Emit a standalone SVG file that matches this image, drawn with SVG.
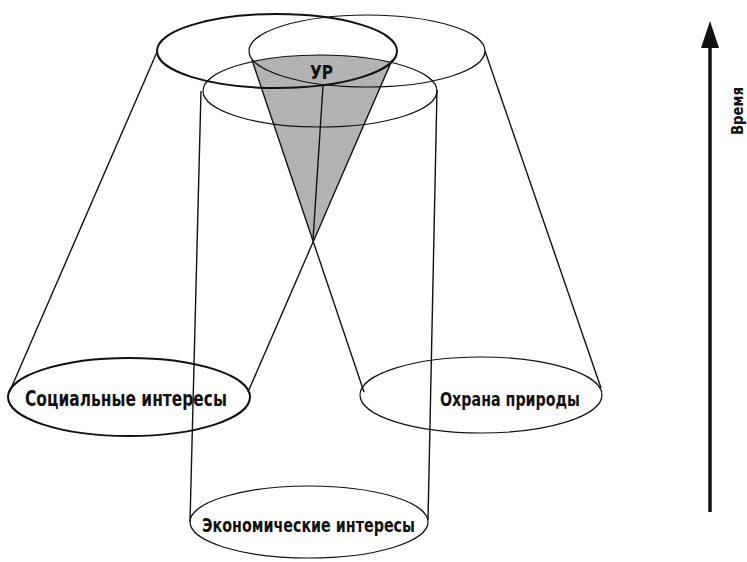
<svg xmlns="http://www.w3.org/2000/svg" width="747" height="562" viewBox="0 0 747 562">
<style>
.thin{fill:none;stroke:#111;stroke-width:1.2}
.bold{fill:none;stroke:#111;stroke-width:2}
.ln{fill:none;stroke:#111;stroke-width:1.4}
.lbl{font-family:"DejaVu Sans Condensed","DejaVu Sans",sans-serif;font-weight:bold;fill:#111;text-anchor:start}
</style>
<rect width="747" height="562" fill="#fff"/>
<g id="ur-zone">
<path d="M252,62 A117,36 0 0,1 392,62 L313,240 Z" fill="#b3b3b3" stroke="none"/>
</g>
<g id="connectors">
<line class="ln" x1="157" y1="52" x2="9" y2="393"/>
<line class="ln" x1="392" y1="60" x2="248" y2="392"/>
<line class="ln" x1="252" y1="60" x2="364" y2="392"/>
<line class="ln" x1="485" y1="51" x2="601" y2="388"/>
<line class="ln" x1="323" y1="86" x2="313" y2="240"/>
<line class="ln" x1="201" y1="91" x2="190" y2="522"/>
<line class="ln" x1="437" y1="90" x2="428" y2="520"/>
<line stroke="#111" stroke-width="3.5" x1="710" y1="512" x2="710" y2="46"/>
<polygon points="710,21 701,48 719,48" fill="#111"/>
</g>
<g id="social-top"><ellipse class="bold" cx="277" cy="51" rx="120" ry="37"/></g>
<g id="nature-top"><ellipse class="thin" cx="367" cy="51" rx="118" ry="36"/></g>
<g id="economic-top"><ellipse class="thin" cx="320" cy="91" rx="117" ry="36"/></g>
<g id="ur"><text class="lbl" x="310" y="79" font-size="19" textLength="23" lengthAdjust="spacingAndGlyphs">УР</text></g>
<g id="social">
<ellipse class="bold" cx="129" cy="397" rx="121" ry="39"/>
<text class="lbl" x="25" y="406" font-size="21" textLength="202" lengthAdjust="spacingAndGlyphs">Социальные интересы</text>
</g>
<g id="nature">
<ellipse class="thin" cx="481" cy="395" rx="121" ry="38"/>
<text class="lbl" x="440" y="406" font-size="20" textLength="140" lengthAdjust="spacingAndGlyphs">Охрана природы</text>
</g>
<g id="economic">
<ellipse class="thin" cx="309" cy="522" rx="119" ry="36"/>
<text class="lbl" x="202" y="532" font-size="20" textLength="213" lengthAdjust="spacingAndGlyphs">Экономические интересы</text>
</g>
<g id="time">
<text class="lbl" transform="translate(743,135) rotate(-90)" font-size="15" textLength="48" lengthAdjust="spacingAndGlyphs">Время</text>
</g>
</svg>
